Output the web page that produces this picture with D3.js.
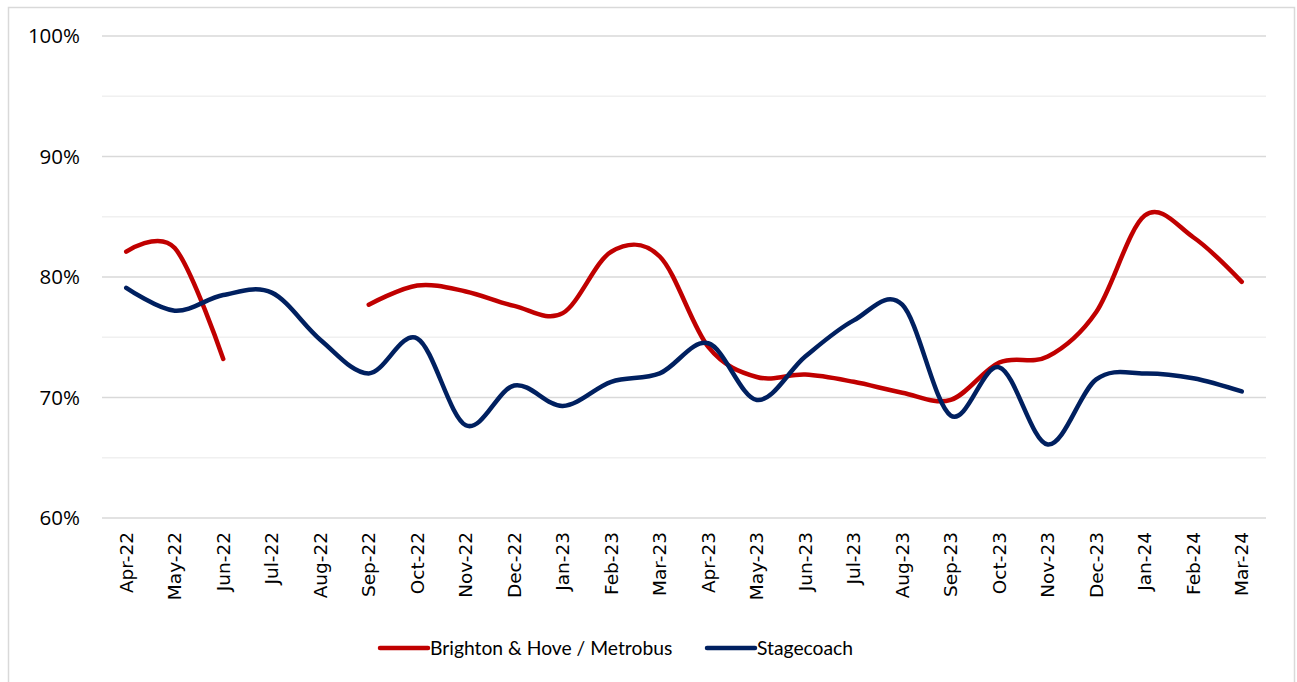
<!DOCTYPE html>
<html>
<head>
<meta charset="utf-8">
<script src="https://cdn.jsdelivr.net/npm/d3@7"></script>
<style>
body{margin:0;background:#fff;}
svg{display:block;font-family:"Liberation Sans",Arial,sans-serif;}
</style>
</head>
<body>
<svg width="1297" height="682"></svg>
<script>
// months on the x axis
var months = ["Apr-22","May-22","Jun-22","Jul-22","Aug-22","Sep-22","Oct-22","Nov-22","Dec-22","Jan-23","Feb-23","Mar-23",
              "Apr-23","May-23","Jun-23","Jul-23","Aug-23","Sep-23","Oct-23","Nov-23","Dec-23","Jan-24","Feb-24","Mar-24"];
// percentages (null = no data)
var brighton = [82.1,82.4,73.2,null,null,77.7,79.3,78.8,77.6,77.0,82.1,81.7,
                74.2,71.7,71.9,71.3,70.4,69.8,72.9,73.4,77.1,85.1,83.3,79.6];
var stagecoach = [79.1,77.2,78.5,78.7,74.8,72.0,74.9,67.7,71.0,69.3,71.3,72.0,
                  74.5,69.8,73.4,76.4,77.7,68.5,72.5,66.1,71.5,72.0,71.6,70.5];
var yTicks = [60,70,80,90,100];
var yMinor = [65,75,85,95];
var seriesNames = ["Brighton & Hove / Metrobus","Stagecoach"];
var seriesColors = ["#C00000","#002060"];

var svg = d3.select('svg');

// chart frame
svg.append('rect')
    .attr('x',8.5).attr('y',7.5).attr('width',1286).attr('height',690)
    .attr('fill','#fff').attr('stroke','#d9d9d9').attr('stroke-width',1.5);

var x = d3.scaleBand().domain(months).range([102,1266]);
var y = d3.scaleLinear().domain([60,100]).range([518,36]);

function xloc(i){ return x(months[i]) + x.bandwidth()/2; }

// gridlines
svg.append('g').selectAll('line.minor')
    .data(yMinor).enter().append('line')
    .attr('x1',102).attr('x2',1266)
    .attr('y1',function(d){return y(d);}).attr('y2',function(d){return y(d);})
    .attr('stroke','#f0f0f0').attr('stroke-width',1.5);
svg.append('g').selectAll('line.major')
    .data(yTicks).enter().append('line')
    .attr('x1',102).attr('x2',1266)
    .attr('y1',function(d){return y(d);}).attr('y2',function(d){return y(d);})
    .attr('stroke','#d9d9d9').attr('stroke-width',1.5);

// y axis labels
var yAxis = d3.axisLeft(y).tickValues(yTicks).tickSize(0).tickPadding(0)
    .tickFormat(function(d){return d+'%';});
var yg = svg.append('g').attr('transform','translate(80,0)').call(yAxis);
yg.select('.domain').remove();
yg.selectAll('text').style('font-family','"Open Sans",sans-serif').style('font-size','20.5px').attr('fill','#000');

// x axis labels, rotated
var xAxis = d3.axisBottom(x).tickSize(0).tickPadding(0);
var xg = svg.append('g').attr('transform','translate(0,532)').call(xAxis);
xg.select('.domain').remove();
xg.selectAll('text')
    .style('font-family','"DejaVu Sans",sans-serif')
    .style('font-size','18.5px').attr('fill','#000')
    .attr('transform','rotate(-90)')
    .attr('text-anchor','end')
    .attr('x',0).attr('y',0).attr('dy','0.35em');

// lines
var line = d3.line()
    .defined(function(d){return d!==null;})
    .x(function(d,i){return xloc(i);})
    .y(function(d){return y(d);})
    .curve(d3.curveCardinal.tension(0));

[brighton,stagecoach].forEach(function(vals,k){
    svg.append('path')
        .datum(vals)
        .attr('d',line)
        .attr('fill','none')
        .attr('stroke',seriesColors[k])
        .attr('stroke-width',4.5)
        .attr('stroke-linecap','round')
        .attr('stroke-linejoin','round');
});

// legend
var legendX = [380,707];
seriesNames.forEach(function(name,k){
    var g = svg.append('g').attr('transform','translate('+legendX[k]+',648)');
    g.append('line').attr('x1',0).attr('x2',48).attr('y1',0).attr('y2',0)
        .attr('stroke',seriesColors[k]).attr('stroke-width',4.5).attr('stroke-linecap','round');
    g.append('text').attr('x',50).attr('y',0).attr('dy','0.35em')
        .style('font-family','Lato,sans-serif')
        .style('font-size','19.3px').attr('fill','#000').text(name);
});
</script>
</body>
</html>
